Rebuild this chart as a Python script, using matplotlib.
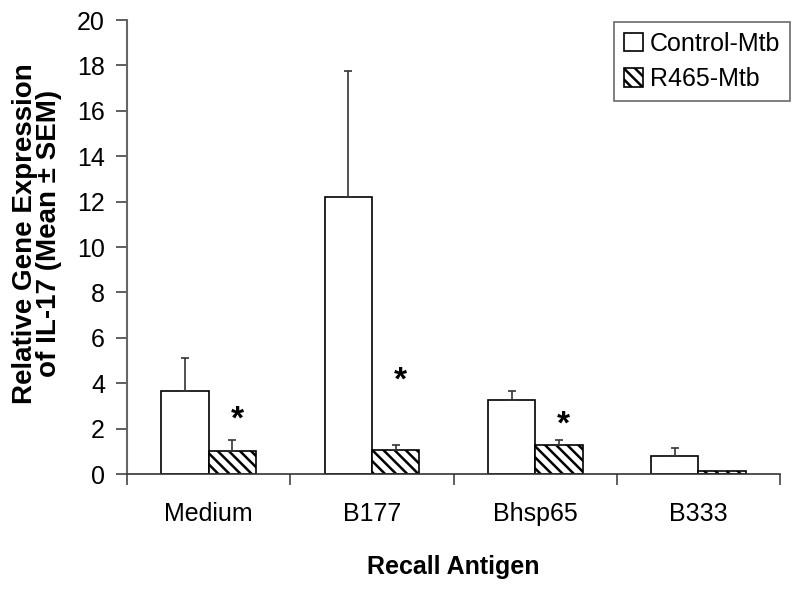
import numpy as np
import matplotlib
matplotlib.use("Agg")
import matplotlib.pyplot as plt

antigenos = ["Medium", "B177", "Bhsp65", "B333"]
control = [3.65, 12.2, 3.25, 0.8]
control_err = [1.45, 5.55, 0.4, 0.35]
r465 = [1.0, 1.05, 1.3, 0.12]
r465_err = [0.5, 0.25, 0.2, 0.03]
estrellas = [2.4, 4.1, 2.15, None]

plt.rcParams["font.family"] = ["Liberation Sans", "DejaVu Sans"]
plt.rcParams["hatch.linewidth"] = 1.8

fig = plt.figure(figsize=(8, 5.89), dpi=100)
ax = fig.add_axes([0.159, 0.195, 0.816, 0.771])

x = np.arange(len(antigenos))
w = 0.29
ax.bar(x - w / 2, control, w, color="white", edgecolor="black", linewidth=1.2,
       yerr=[np.zeros(4), control_err], capsize=3,
       error_kw=dict(elinewidth=1.2, capthick=1.2, ecolor="#333333"),
       label="Control-Mtb", zorder=2)
ax.bar(x + w / 2, r465, w, color="white", edgecolor="black", linewidth=1.2,
       hatch="\\\\\\", yerr=[np.zeros(4), r465_err], capsize=3,
       error_kw=dict(elinewidth=1.2, capthick=1.2, ecolor="#333333"),
       label="R465-Mtb", zorder=2)

# asteriscos de significancia
for i, s in enumerate(estrellas):
    if s is not None:
        ax.text(x[i] + w / 2 + 0.03, s, "*", ha="center", va="center",
                fontsize=24, fontweight="bold")

ax.set_xlim(-0.5, 3.5)
ax.set_ylim(0, 20)
ax.set_yticks(np.arange(0, 21, 2))
ax.set_xticks(x)
ax.set_xticklabels(antigenos)
ax.set_xticks(np.arange(-0.5, 3.6, 1), minor=True)
ax.tick_params(axis="x", which="major", length=0, labelsize=18, pad=20)
ax.tick_params(axis="x", which="minor", length=8, width=1.2, color="#444444")
ax.tick_params(axis="y", length=8, width=1.2, color="#444444", labelsize=18, pad=8)

for lado in ["top", "right"]:
    ax.spines[lado].set_visible(False)
ax.spines["left"].set_color("#666666")
ax.spines["left"].set_linewidth(1.5)
ax.spines["bottom"].set_color("#333333")
ax.spines["bottom"].set_linewidth(1.2)

ax.set_xlabel("Recall Antigen", fontsize=18, fontweight="bold", labelpad=21)
ax.set_ylabel("Relative Gene Expression\nof IL-17 (Mean \u00b1 SEM)",
              fontsize=20, fontweight="bold", linespacing=0.9)
ax.yaxis.set_label_coords(-0.1, 0.53)

leg = ax.legend(loc="upper right", bbox_to_anchor=(1.016, 0.996), fontsize=18,
                frameon=True, fancybox=False, edgecolor="#444444",
                handlelength=0.75, handleheight=0.75, handletextpad=0.3,
                borderpad=0.4, labelspacing=0.45, borderaxespad=0)
leg.get_frame().set_linewidth(1.2)

plt.savefig("out.png", dpi=100)
